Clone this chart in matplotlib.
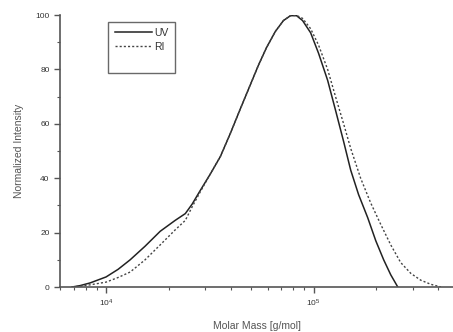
import numpy as np
import matplotlib
matplotlib.use("Agg")
import matplotlib.pyplot as plt
from matplotlib.ticker import LogLocator, NullFormatter, MultipleLocator

# data (log10 of molar mass, normalized intensity)
uv_logm = [3.836, 3.874, 3.923, 4.000, 4.058, 4.116, 4.188, 4.261, 4.333, 4.382,
           4.415, 4.454, 4.502, 4.551, 4.599, 4.647, 4.696, 4.734, 4.773, 4.816,
           4.855, 4.889, 4.918, 4.947, 4.986, 5.024, 5.068, 5.106, 5.145, 5.179,
           5.217, 5.261, 5.300, 5.338, 5.372, 5.406]
uv_int = [0, 0.5, 1.5, 3.7, 6.5, 10, 15, 20.5, 24.5, 27,
          30.5, 35.5, 41.5, 48, 56.5, 65.5, 74.5, 81.5, 88, 94,
          98, 99.8, 99.8, 98, 93.5, 86, 76, 65, 53.5, 43,
          34, 25.5, 17, 10, 4.5, 0]

ri_logm = [3.836, 3.874, 3.923, 4.000, 4.058, 4.116, 4.188, 4.261, 4.333, 4.382,
           4.415, 4.454, 4.502, 4.551, 4.599, 4.647, 4.696, 4.734, 4.773, 4.816,
           4.855, 4.889, 4.918, 4.947, 4.986, 5.024, 5.068, 5.106, 5.145, 5.179,
           5.227, 5.275, 5.324, 5.372, 5.420, 5.469, 5.517, 5.565, 5.614]
ri_int = [0, 0.3, 0.8, 1.8, 3.5, 5.5, 10, 15.5, 21, 24.5,
          29.5, 35, 41.5, 48, 56.5, 65.5, 74.5, 81.5, 88, 94,
          98, 99.8, 99.9, 98.8, 95, 89, 80, 70, 60, 51,
          40, 31, 23, 15.5, 9, 5, 2.5, 1, 0]

plt.rcParams['font.family'] = ['Liberation Sans', 'DejaVu Sans']
grey = "#555555"

fig = plt.figure(figsize=(4.53, 3.32), dpi=100)
ax = fig.add_axes([0.1325, 0.1355, 0.8675, 0.819])

ax.plot(10 ** np.array(uv_logm), uv_int, color="#222222", lw=1.1, label="UV")
ax.plot(10 ** np.array(ri_logm), ri_int, color="#444444", lw=1.0, ls=(0, (1.5, 1.5)), label="RI")
ax.plot([], [], lw=0, label=" ")

ax.set_xscale("log")
ax.set_xlim(6000, 470000)
ax.set_ylim(0, 100)
ax.yaxis.set_major_locator(MultipleLocator(20))
ax.yaxis.set_minor_locator(MultipleLocator(10))
ax.xaxis.set_major_locator(LogLocator(base=10, numticks=10))
ax.xaxis.set_minor_locator(LogLocator(base=10, subs=np.arange(2, 10), numticks=10))
ax.xaxis.set_minor_formatter(NullFormatter())

for s in ["top", "right"]:
    ax.spines[s].set_visible(False)
for s in ["left", "bottom"]:
    ax.spines[s].set_color(grey)
    ax.spines[s].set_linewidth(1.2)

ax.tick_params(which="major", length=4, width=1, color=grey, labelsize=6, labelcolor="#333333")
ax.tick_params(which="minor", length=2, width=0.8, color=grey)

ax.set_xlabel("Molar Mass [g/mol]", fontsize=7.5, color=grey, labelpad=9)
ax.set_ylabel("Normalized Intensity", fontsize=7.5, color=grey, labelpad=8)

leg = ax.legend(loc="upper left", bbox_to_anchor=(0.11, 0.995), fontsize=7.5,
                frameon=True, fancybox=False, edgecolor="#444444",
                handlelength=3.6, handletextpad=0.2, borderpad=0.6,
                labelspacing=0.4, labelcolor="#333333")
leg.get_frame().set_linewidth(1.0)

fig.savefig("out.png", dpi=100)
